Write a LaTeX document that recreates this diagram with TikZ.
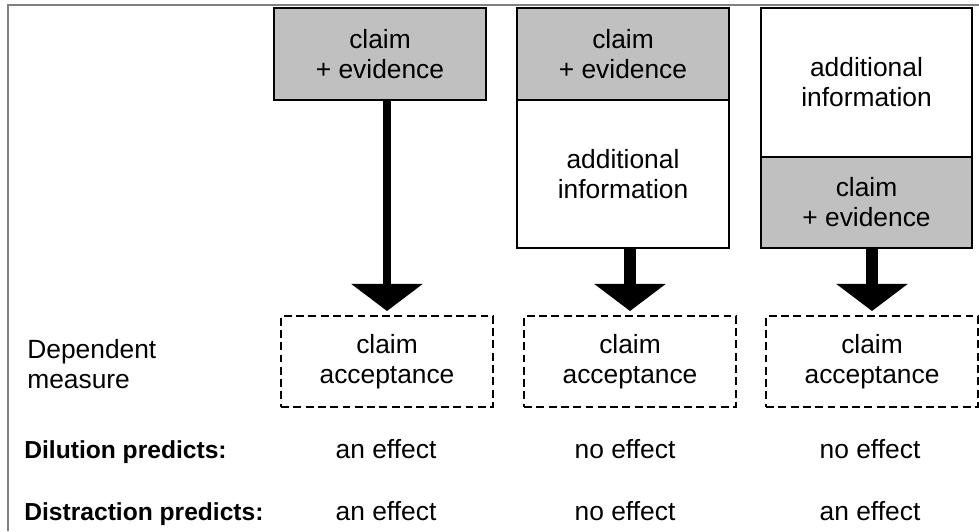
\documentclass[tikz,border=0pt]{standalone}
\usepackage{fontspec}
\setmainfont{Liberation Sans}
\usetikzlibrary{positioning,arrows.meta}
\definecolor{boxgray}{RGB}{192,192,192}
\tikzset{
  box/.style={draw, line width=1pt, inner sep=0pt, outer sep=0pt, align=center, minimum width=4.24cm},
  graybox/.style={box, fill=boxgray},
  whitebox/.style={box, fill=white},
  dashbox/.style={draw, line width=0.8pt, dash pattern=on 4.5pt off 2.5pt, inner sep=0pt, outer sep=0pt, align=center, minimum width=4.24cm, minimum height=1.82cm},
  bigarrow/.style={line width=#1, -{Triangle[width=1.4cm,length=0.54cm]}, shorten >=0.1cm},
  rowlabel/.style={anchor=base west, inner sep=0pt, font=\fontsize{14}{17}\selectfont\bfseries}
}
\begin{document}
\begin{tikzpicture}[font=\fontsize{15}{17}\selectfont]
  \useasboundingbox (0,0) rectangle (19.58,10.62);
  \draw[gray, line width=0.8pt] (0.16,0) -- (0.16,10.52) -- (19.58,10.52);
  % manipulations
  \node[graybox, minimum height=1.84cm] (ce1) at (7.6,9.54) {claim\\+ evidence};
  \node[graybox, minimum height=1.84cm] (ce2) at (12.46,9.54) {claim\\+ evidence};
  \node[whitebox, minimum height=2.96cm, below=0pt of ce2] (ai2) {additional\\information};
  \node[whitebox, minimum height=2.98cm, minimum width=4.22cm] (ai3) at (17.33,8.97) {additional\\information};
  \node[graybox, minimum height=1.82cm, minimum width=4.22cm, below=0pt of ai3] (ce3) {claim\\+ evidence};
  % dependent measure
  \node[anchor=west, align=left, inner sep=0pt] (dep) at (0.54,3.33) {Dependent\\measure};
  \node[dashbox] (acc1) at (7.74,3.39) {claim\\acceptance};
  \node[dashbox] (acc2) at (12.6,3.39) {claim\\acceptance};
  \node[dashbox] (acc3) at (17.44,3.39) {claim\\acceptance};
  \draw[bigarrow=0.15cm] (ce1.south -| acc1.north) -- (acc1.north);
  \draw[bigarrow=0.25cm] (ai2.south -| acc2.north) -- (acc2.north);
  \draw[bigarrow=0.24cm] (ce3.south -| acc3.north) -- (acc3.north);
  % predictions
  \node[rowlabel] (dil) at (0.48,1.46) {Dilution predicts:};
  \node[rowlabel] (dis) at (0.48,0.22) {Distraction predicts:};
  \node[anchor=base] (dil1) at (7.72,1.46) {an effect};
  \node[anchor=base] (dil2) at (12.5,1.46) {no effect};
  \node[anchor=base] (dil3) at (17.4,1.46) {no effect};
  \node[anchor=base] (dis1) at (7.72,0.22) {an effect};
  \node[anchor=base] (dis2) at (12.5,0.22) {no effect};
  \node[anchor=base] (dis3) at (17.4,0.22) {an effect};
\end{tikzpicture}
\end{document}
